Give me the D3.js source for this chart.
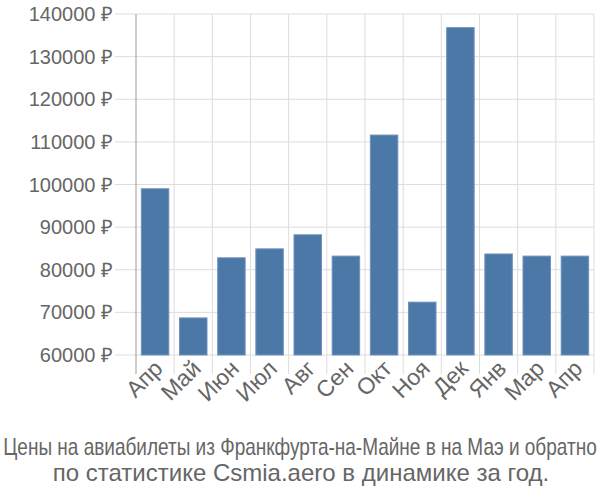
<!DOCTYPE html>
<html>
<head>
<meta charset="utf-8">
<script src="https://cdn.jsdelivr.net/npm/d3@7"></script>
<style>
  body { margin: 0; background: #fff; }
  text { font-family: 'Liberation Sans', Arial, sans-serif; fill: #666; }
</style>
</head>
<body>
<div class="chart"></div>
<script>
const months = ['Апр', 'Май', 'Июн', 'Июл', 'Авг', 'Сен', 'Окт', 'Ноя', 'Дек', 'Янв', 'Мар', 'Апр']
const prices = [99000, 68700, 82800, 84900, 88200, 83200, 111600, 72400, 136800, 83700, 83200, 83200]
const yTicks = [60000, 70000, 80000, 90000, 100000, 110000, 120000, 130000, 140000]
const titleLines = [
    'Цены на авиабилеты из Франкфурта-на-Майне в на Маэ и обратно',
    'по статистике Csmia.aero в динамике за год.'
]

const width = 600, height = 500
const margin = { top: 14, right: 6, bottom: 145, left: 136 }
const plotW = width - margin.left - margin.right
const plotH = height - margin.top - margin.bottom

const svg = d3.select('.chart').append('svg')
    .attr('width', width)
    .attr('height', height)

const g = svg.append('g')
    .attr('transform', `translate(${margin.left}, ${margin.top})`)

const x = d3.scaleBand()
    .domain(months.map((m, i) => i))
    .range([0, plotW])
    .paddingInner(0.28)
    .paddingOuter(0.14)

const y = d3.scaleLinear()
    .domain([60000, 140000])
    .range([plotH, 0])

// horizontal grid + ticks out to the left
g.selectAll('.hgrid').data(yTicks).enter().append('line')
    .attr('x1', -21).attr('x2', plotW)
    .attr('y1', d => y(d)).attr('y2', d => y(d))
    .style('stroke', '#ddd').style('stroke-width', 1)

// vertical grid at band edges, extended below
const step = x.step()
d3.range(months.length + 1).forEach(i => {
    g.append('line')
        .attr('x1', i * step).attr('x2', i * step)
        .attr('y1', 0).attr('y2', plotH + 19)
        .style('stroke', i === 0 ? '#999' : '#ddd')
        .style('stroke-width', 1)
})

g.selectAll('.ylab').data(yTicks).enter().append('text')
    .attr('x', -23)
    .attr('y', d => y(d))
    .attr('dy', '0.35em')
    .attr('text-anchor', 'end')
    .style('font-size', '20px')
    .text(d => d + ' ₽')

g.selectAll('.bar').data(prices).enter().append('rect')
    .attr('x', (d, i) => x(i))
    .attr('y', d => y(d))
    .attr('width', x.bandwidth())
    .attr('height', d => plotH - y(d))
    .style('fill', '#4c78a8')
    .style('stroke', '#6f92bd')
    .style('stroke-width', 1)

g.selectAll('.xlab').data(months).enter().append('text')
    .attr('text-anchor', 'end')
    .attr('transform', (d, i) => `translate(${x(i) + x.bandwidth() / 2 + 9}, ${plotH + 15}) rotate(-45)`)
    .style('font-size', '23px')
    .text(d => d)

// first title line is squeezed horizontally to fit the width
const t1 = svg.append('text')
    .attr('text-anchor', 'middle')
    .style('font-size', '23px')
    .text(titleLines[0])
const natural = t1.node().getComputedTextLength()
const sx = Math.min(1, 594 / natural)
t1.attr('transform', `translate(${width / 2}, 455) scale(${sx}, 1)`)

svg.append('text')
    .attr('x', width / 2 + 1).attr('y', 481)
    .attr('text-anchor', 'middle')
    .style('font-size', '24px')
    .text(titleLines[1])
</script>
</body>
</html>
